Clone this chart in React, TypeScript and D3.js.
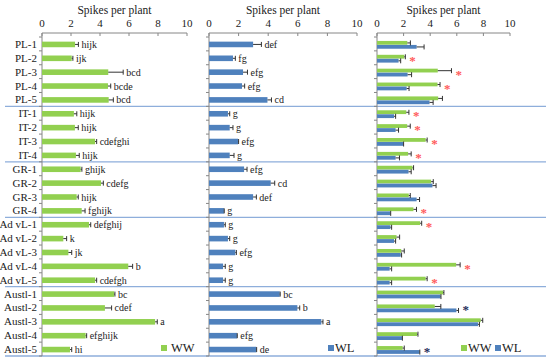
import React from 'react';
import * as d3 from 'd3';

const genotypes = [
  'PL-1', 'PL-2', 'PL-3', 'PL-4', 'PL-5',
  'IT-1', 'IT-2', 'IT-3', 'IT-4',
  'GR-1', 'GR-2', 'GR-3', 'GR-4',
  'Ad vL-1', 'Ad vL-2', 'Ad vL-3', 'Ad vL-4', 'Ad vL-5',
  'Austl-1', 'Austl-2', 'Austl-3', 'Austl-4', 'Austl-5',
];
// group boundaries (index of the first genotype of each following group)
const groupBreaks = [5, 9, 13, 18, 23];

const wwValues = [2.28, 2.05, 4.57, 4.55, 4.6, 2.2, 2.27, 3.66, 2.34, 2.67, 4.07, 2.39, 2.74, 3.24, 1.47, 1.82, 5.95, 3.66, 4.97, 4.34, 7.8, 3.01, 1.93];
const wwErrors = [0.23, 0.08, 1.03, 0.19, 0.32, 0.2, 0.23, 0.11, 0.23, 0.08, 0.16, 0.11, 0.23, 0.12, 0.23, 0.23, 0.3, 0.11, 0.06, 0.46, 0.15, 0.07, 0.12];
const wwLetters = ['hijk', 'ijk', 'bcd', 'bcde', 'bcd', 'hijk', 'hijk', 'cdefghi', 'hijk', 'ghijk', 'cdefg', 'hijk', 'fghijk', 'defghij', 'k', 'jk', 'b', 'cdefgh', 'bc', 'cdef', 'a', 'efghijk', 'hi'];

const wlValues = [2.98, 1.62, 2.3, 2.23, 3.95, 1.28, 1.4, 1.96, 1.4, 2.37, 4.17, 2.98, 1.01, 1.01, 1.28, 1.78, 0.95, 0.95, 4.78, 5.97, 7.59, 1.89, 3.2];
const wlErrors = [0.56, 0.16, 0.3, 0.18, 0.27, 0.12, 0.22, 0.04, 0.29, 0.2, 0.27, 0.22, 0.02, 0.09, 0.12, 0.07, 0.15, 0.15, 0.03, 0.16, 0.11, 0.02, 0.02];
const wlLetters = ['def', 'fg', 'efg', 'efg', 'cd', 'g', 'g', 'efg', 'g', 'efg', 'cd', 'def', 'g', 'g', 'g', 'efg', 'g', 'g', 'bc', 'b', 'a', 'efg', 'de'];

// significance stars between WW and WL (red), and dark ones
const redStars = ['PL-2', 'PL-3', 'PL-4', 'IT-1', 'IT-2', 'IT-3', 'IT-4', 'GR-4', 'Ad vL-1', 'Ad vL-4', 'Ad vL-5'];
const darkStars = ['Austl-2', 'Austl-5'];

const xTicks = [0, 2, 4, 6, 8, 10];

const GREEN = '#92d050';
const BLUE = '#4f81bd';
const AXIS = '#868686';
const SEP = '#8eaedb';
const FONT = '"Liberation Serif", "DejaVu Serif", serif';

const y = d3.scaleBand<string>().domain(genotypes).range([37, 356]);
const step = y.step();

const xLeft = d3.scaleLinear().domain([0, 10]).range([42, 187]);
const xMid = d3.scaleLinear().domain([0, 10]).range([209, 357]);
const xRight = d3.scaleLinear().domain([0, 10]).range([377, 510]);

function TopAxis({ x }: { x: d3.ScaleLinear<number, number> }) {
  const [x0, x1] = x.range();
  return (
    <g>
      <text x={(x0 + x1) / 2} y={14} textAnchor="middle" fontSize={11.5} fill="#222">Spikes per plant</text>
      <line x1={x0} x2={x1} y1={33} y2={33} stroke={AXIS} />
      {xTicks.map(t => (
        <g key={t}>
          <line x1={x(t)} x2={x(t)} y1={33} y2={36} stroke={AXIS} />
          <text x={x(t)} y={27} textAnchor="middle" fontSize={11} fill="#222">{t}</text>
        </g>
      ))}
      <line x1={x0} x2={x0} y1={33} y2={356} stroke={AXIS} />
      {d3.range(genotypes.length + 1).map(i => (
        <line key={i} x1={x0 - 3} x2={x0} y1={37 + i * step} y2={37 + i * step} stroke={AXIS} />
      ))}
    </g>
  );
}

function ErrorBar({ x, v, e, cy, color = '#333' }: any) {
  return (
    <g stroke={color} strokeWidth={1}>
      <line x1={x(v)} x2={x(v + e)} y1={cy} y2={cy} />
      <line x1={x(v + e)} x2={x(v + e)} y1={cy - 2.5} y2={cy + 2.5} />
    </g>
  );
}

function SinglePanel({ x, values, errors, letters, color }: any) {
  return (
    <g>
      {genotypes.map((g, i) => {
        const cy = (y(g) as number) + step / 2 + 0.5;
        return (
          <g key={g}>
            <rect x={x(0)} y={cy - 2.8} width={x(values[i]) - x(0)} height={5.6} fill={color} />
            <ErrorBar x={x} v={values[i]} e={errors[i]} cy={cy} />
            <text x={x(values[i] + errors[i]) + 3} y={cy + 3.5} fontSize={10} fill="#222">{letters[i]}</text>
          </g>
        );
      })}
    </g>
  );
}

function PairPanel() {
  const x = xRight;
  return (
    <g>
      {genotypes.map((g, i) => {
        const cy = (y(g) as number) + step / 2 + 1;
        const end = Math.max(wwValues[i] + wwErrors[i], wlValues[i] + wlErrors[i]);
        const red = redStars.includes(g);
        const dark = darkStars.includes(g);
        return (
          <g key={g}>
            <rect x={x(0)} y={cy - 4} width={x(wwValues[i]) - x(0)} height={3.8} fill={GREEN} />
            <rect x={x(0)} y={cy} width={x(wlValues[i]) - x(0)} height={3.8} fill={BLUE} />
            <ErrorBar x={x} v={wwValues[i]} e={wwErrors[i]} cy={cy - 2} />
            <ErrorBar x={x} v={wlValues[i]} e={wlErrors[i]} cy={cy + 2} />
            {(red || dark) && (
              <text x={x(end) + 4} y={cy + 6} fontSize={13} fontWeight="bold"
                fill={red ? '#ff5b5b' : '#1f2d5a'}>*</text>
            )}
          </g>
        );
      })}
    </g>
  );
}

export default function App() {
  return (
    <div style={{ position: 'absolute', left: 0, top: 0 }}>
      <svg width={550} height={361} style={{ display: 'block', fontFamily: FONT }}>
        <rect width={550} height={361} fill="#fff" />
        {groupBreaks.map(b => (
          <line key={b} x1={5} x2={546} y1={37 + b * step} y2={37 + b * step} stroke={SEP} strokeWidth={1.3} />
        ))}
        <TopAxis x={xLeft} />
        <TopAxis x={xMid} />
        <TopAxis x={xRight} />
        {genotypes.map(g => (
          <text key={g} x={37} y={(y(g) as number) + step / 2 + 4} textAnchor="end" fontSize={11} fill="#222">{g}</text>
        ))}
        <SinglePanel x={xLeft} values={wwValues} errors={wwErrors} letters={wwLetters} color={GREEN} />
        <SinglePanel x={xMid} values={wlValues} errors={wlErrors} letters={wlLetters} color={BLUE} />
        <PairPanel />
        <g fontSize={12.5} fill="#222">
          <rect x={161} y={345} width={6} height={6} fill={GREEN} />
          <text x={171} y={352}>WW</text>
          <rect x={328} y={345} width={6} height={6} fill={BLUE} />
          <text x={335} y={352}>WL</text>
          <rect x={461} y={345} width={6} height={6} fill={GREEN} />
          <text x={468} y={352}>WW</text>
          <rect x={495} y={345} width={6} height={6} fill={BLUE} />
          <text x={502} y={352}>WL</text>
        </g>
      </svg>
    </div>
  );
}
